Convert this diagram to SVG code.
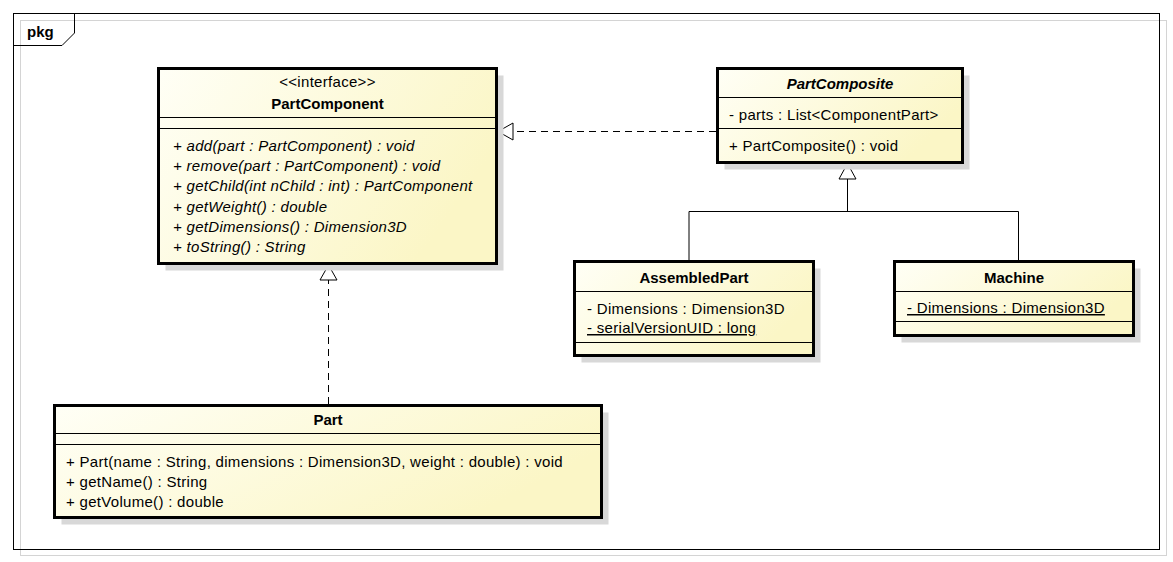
<svg xmlns="http://www.w3.org/2000/svg" width="1173" height="562" viewBox="0 0 1173 562">
<defs>
<linearGradient id="fillg" x1="0" y1="0" x2="1" y2="0.4">
<stop offset="0" stop-color="#fffff6"/>
<stop offset="1" stop-color="#fbf6c6"/>
</linearGradient>
<style>
text{font-family:"Liberation Sans",Arial,sans-serif;font-size:15px;fill:#000;letter-spacing:0.3px}
.b{font-weight:bold;letter-spacing:0}
.i{font-style:italic}
.c{text-anchor:middle}
.box{fill:url(#fillg);stroke:#000;stroke-width:3}
.sh{fill:#d8d8d8}
.sep{stroke:#000;stroke-width:1;fill:none}
.ln{stroke:#000;stroke-width:1;fill:none}
.dash{stroke:#000;stroke-width:1;fill:none;stroke-dasharray:7,5}
.tri{fill:#fff;stroke:#000;stroke-width:1}
.u{text-decoration:underline}
</style>
</defs>
<rect width="1173" height="562" fill="#fff"/>
<g id="frame">
<rect x="20.5" y="20.5" width="1146" height="535" fill="none" stroke="#d4d4d4"/>
<rect x="13.5" y="13.5" width="1146" height="536" fill="none" stroke="#000"/>
<path d="M13.5,45.5 H62 L74.5,33 V13.5" fill="none" stroke="#000"/>
<text x="27" y="37" class="b">pkg</text>
</g>
<g id="connectors">
<line x1="716" y1="131.5" x2="513" y2="131.5" class="dash"/>
<polygon points="498,131.5 513,123 513,140" class="tri"/>
<line x1="328.5" y1="404" x2="328.5" y2="280" class="dash"/>
<polygon points="328.5,265 320,280 337,280" class="tri"/>
<polyline points="689,260 689,211.5 1018.5,211.5 1018.5,260" class="ln"/>
<line x1="847.5" y1="211.5" x2="847.5" y2="179" class="ln"/>
<polygon points="847.5,163.5 839,179 856,179" class="tri"/>
</g>
<g id="PartComponent">
<rect x="165.5" y="75.5" width="338" height="195" class="sh"/>
<rect x="158.5" y="68.5" width="338" height="195" class="box"/>
<line x1="158.5" y1="117.5" x2="496.5" y2="117.5" class="sep"/>
<line x1="158.5" y1="128.5" x2="496.5" y2="128.5" class="sep"/>
<text x="327.5" y="87" class="c">&lt;&lt;interface&gt;&gt;</text>
<text x="327.5" y="109" class="c b">PartComponent</text>
<text x="173" y="151" class="i">+ add(part : PartComponent) : void</text>
<text x="173" y="171" class="i">+ remove(part : PartComponent) : void</text>
<text x="173" y="191" class="i">+ getChild(int nChild : int) : PartComponent</text>
<text x="173" y="212" class="i">+ getWeight() : double</text>
<text x="173" y="232" class="i">+ getDimensions() : Dimension3D</text>
<text x="173" y="252" class="i">+ toString() : String</text>
</g>
<g id="PartComposite">
<rect x="724.5" y="75.5" width="245" height="94" class="sh"/>
<rect x="717.5" y="68.5" width="245" height="94" class="box"/>
<line x1="717.5" y1="97.5" x2="962.5" y2="97.5" class="sep"/>
<line x1="717.5" y1="128.5" x2="962.5" y2="128.5" class="sep"/>
<text x="840" y="89" class="c b i">PartComposite</text>
<text x="729" y="120">- parts : List&lt;ComponentPart&gt;</text>
<text x="729" y="151">+ PartComposite() : void</text>
</g>
<g id="AssembledPart">
<rect x="581.5" y="268.5" width="239" height="94" class="sh"/>
<rect x="574.5" y="261.5" width="239" height="94" class="box"/>
<line x1="574.5" y1="291.5" x2="813.5" y2="291.5" class="sep"/>
<line x1="574.5" y1="342.5" x2="813.5" y2="342.5" class="sep"/>
<text x="694" y="283" class="c b">AssembledPart</text>
<text x="587" y="314">- Dimensions : Dimension3D</text>
<text x="587" y="333" class="u">- serialVersionUID : long</text>
</g>
<g id="Machine">
<rect x="901.5" y="268.5" width="239" height="74" class="sh"/>
<rect x="894.5" y="261.5" width="239" height="74" class="box"/>
<line x1="894.5" y1="291.5" x2="1133.5" y2="291.5" class="sep"/>
<line x1="894.5" y1="321.5" x2="1133.5" y2="321.5" class="sep"/>
<text x="1014" y="283" class="c b">Machine</text>
<text x="907" y="313" class="u">- Dimensions : Dimension3D</text>
</g>
<g id="Part">
<rect x="61.5" y="412.5" width="547" height="112" class="sh"/>
<rect x="54.5" y="405.5" width="547" height="112" class="box"/>
<line x1="54.5" y1="433.5" x2="601.5" y2="433.5" class="sep"/>
<line x1="54.5" y1="444.5" x2="601.5" y2="444.5" class="sep"/>
<text x="328" y="425" class="c b">Part</text>
<text x="66" y="467">+ Part(name : String, dimensions : Dimension3D, weight : double) : void</text>
<text x="66" y="487">+ getName() : String</text>
<text x="66" y="507">+ getVolume() : double</text>
</g>
</svg>
